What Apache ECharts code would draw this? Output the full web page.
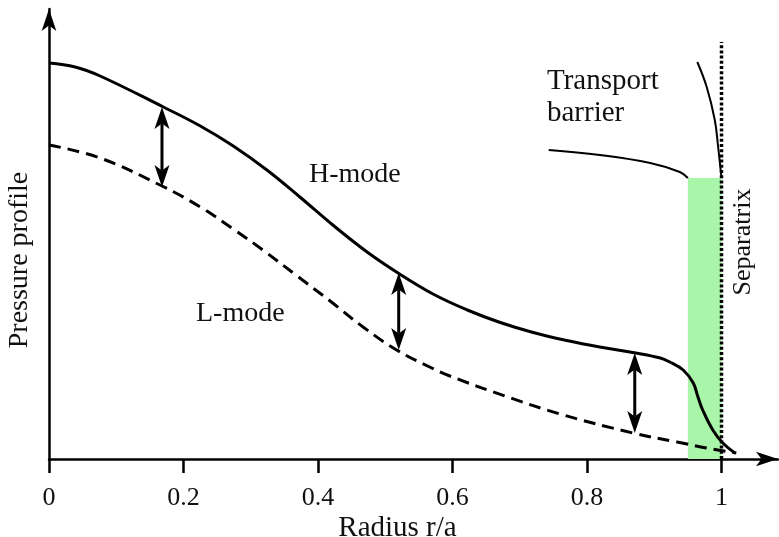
<!DOCTYPE html>
<html><head><meta charset="utf-8">
<script src="https://cdn.jsdelivr.net/npm/echarts@6/dist/echarts.min.js"></script>
<style>html,body{margin:0;padding:0;background:#fff}#c{width:779px;height:537px}</style>
</head><body><div id="c"></div>
<script>
// ---- data ----
const xTicks = [0, 0.2, 0.4, 0.6, 0.8, 1];
const hModeR = [0, 0.039, 0.076, 0.170, 0.225, 0.274, 0.324, 0.373, 0.422, 0.473, 0.519, 0.571, 0.622, 0.671, 0.720, 0.770, 0.819, 0.868, 0.909, 0.923, 0.943, 0.958, 0.965, 0.972, 0.987, 1.002, 1.020];
const hModeP = [3.96, 3.92, 3.83, 3.52, 3.33, 3.13, 2.89, 2.62, 2.34, 2.07, 1.86, 1.65, 1.49, 1.365, 1.265, 1.185, 1.12, 1.065, 1.01, 0.97, 0.89, 0.76, 0.62, 0.49, 0.29, 0.16, 0.06];
const lModeR = [0, 0.076, 0.168, 0.225, 0.274, 0.318, 0.369, 0.418, 0.467, 0.517, 0.566, 0.596, 0.678, 0.760, 0.868, 0.934, 0.978, 1.022];
const lModeP = [3.14, 3.01, 2.73, 2.52, 2.30, 2.09, 1.83, 1.58, 1.32, 1.09, 0.92, 0.83, 0.63, 0.45, 0.26, 0.17, 0.11, 0.06];
const barrierLineAR = [0.743, 0.819, 0.894, 0.938, 0.950];
const barrierLineAP = [3.09, 3.04, 2.96, 2.87, 2.81];
const barrierLineBR = [0.964, 0.978, 0.990, 0.995, 1.0];
const barrierLineBP = [3.97, 3.72, 3.39, 3.12, 2.81];
const separatrixR = [1.0, 1.0];
const separatrixP = [0, 4.17];
const barrierBand = [0.950, 1.0, 2.81];           // r start, r end, top
const arrowR = [0.168, 0.520, 0.871];
const arrowTop = [3.52, 1.86, 1.06];
const arrowBottom = [2.72, 1.09, 0.26];

const zip = (a, b) => a.map((v, i) => [v, b[i]]);
const FONT = 'Liberation Serif';
const chart = echarts.init(document.getElementById('c'), null, {renderer: 'canvas'});

function arrowHead(x, y, dir, L, W) {
  const n = L * 0.75;
  return {type: 'polygon', shape: {points: [[x, y], [x + W, y + dir * L], [x, y + dir * n], [x - W, y + dir * L]]},
          style: {fill: '#000'}};
}

chart.setOption({
  animation: false,
  backgroundColor: '#fff',
  grid: {left: 49, right: 1, top: 9, bottom: 78, containLabel: false, outerBoundsMode: 'none'},
  xAxis: {
    type: 'value', min: 0, max: 1.084, interval: 0.2,
    name: 'Radius r/a', nameLocation: 'middle', nameGap: 55, nameMoveOverlap: false,
    nameTextStyle: {fontFamily: FONT, fontSize: 29, color: '#111', padding: [0, 32, 0, 0]},
    axisLine: {lineStyle: {color: '#000', width: 2.5}, symbol: ['none', 'arrow'], symbolSize: [11, 22]},
    axisTick: {show: true, length: 14, lineStyle: {color: '#000', width: 2.5}, customValues: xTicks},
    axisLabel: {fontFamily: FONT, fontSize: 26, color: '#111', margin: 26, customValues: xTicks},
    splitLine: {show: false}
  },
  yAxis: {
    type: 'value', min: 0, max: 4.5,
    name: 'Pressure profile', nameLocation: 'middle', nameGap: 15, nameRotate: 90, nameMoveOverlap: false,
    nameTextStyle: {fontFamily: FONT, fontSize: 28, color: '#111', padding: [0, 52, 0, 0]},
    axisLine: {show: true, lineStyle: {color: '#000', width: 2.5}, symbol: ['none', 'arrow'], symbolSize: [11, 22]},
    axisTick: {show: false}, axisLabel: {show: false}, splitLine: {show: false}
  },
  series: [
    {
      type: 'custom', name: 'Transport barrier region', z: 1, silent: true,
      data: [barrierBand],
      renderItem: (params, api) => {
        const p0 = api.coord([api.value(0), api.value(2)]);
        const p1 = api.coord([api.value(1), 0]);
        return {type: 'rect', shape: {x: p0[0], y: p0[1], width: p1[0] - p0[0], height: p1[1] - p0[1]},
                style: {fill: '#a9f5a9'}};
      }
    },
    {
      type: 'line', name: 'Separatrix', z: 3, showSymbol: false, silent: true,
      data: zip(separatrixR, separatrixP),
      lineStyle: {color: '#000', width: 3.5, type: [3, 2.2], cap: 'butt'}
    },
    {
      type: 'line', name: 'L-mode', z: 4, showSymbol: false, smooth: 0.4,
      data: zip(lModeR, lModeP),
      lineStyle: {color: '#000', width: 3, type: [12, 7]}
    },
    {
      type: 'line', name: 'H-mode', z: 5, showSymbol: false, smooth: 0.4,
      data: zip(hModeR, hModeP),
      lineStyle: {color: '#000', width: 3}
    },
    {
      type: 'line', name: 'barrier pointer A', z: 5, showSymbol: false, smooth: 0.4,
      data: zip(barrierLineAR, barrierLineAP),
      lineStyle: {color: '#000', width: 2}
    },
    {
      type: 'line', name: 'barrier pointer B', z: 5, showSymbol: false, smooth: 0.4,
      data: zip(barrierLineBR, barrierLineBP),
      lineStyle: {color: '#000', width: 2}
    },
    {
      type: 'custom', name: 'difference', z: 6, silent: true,
      data: arrowR.map((r, i) => [r, arrowTop[i], arrowBottom[i]]),
      renderItem: (params, api) => {
        const r = api.value(0);
        const a = api.coord([r, api.value(1)]);
        const b = api.coord([r, api.value(2)]);
        const L = 22, W = 7.5, n = L * 0.75;
        return {type: 'group', children: [
          {type: 'line', shape: {x1: a[0], y1: a[1] + n, x2: b[0], y2: b[1] - n}, style: {stroke: '#000', lineWidth: 3}},
          arrowHead(a[0], a[1], 1, L, W),
          arrowHead(b[0], b[1], -1, L, W)
        ]};
      }
    }
  ],
  graphic: [
    {type: 'text', x: 309, y: 175, style: {text: 'H-mode', font: '28px "Liberation Serif"', fill: '#111', verticalAlign: 'middle'}, z: 10},
    {type: 'text', x: 196, y: 314, style: {text: 'L-mode', font: '28px "Liberation Serif"', fill: '#111', verticalAlign: 'middle'}, z: 10},
    {type: 'text', x: 547, y: 97, style: {text: 'Transport\nbarrier', font: '29px "Liberation Serif"', lineHeight: 32, fill: '#111', verticalAlign: 'middle'}, z: 10},
    {type: 'text', x: 743, y: 242, rotation: Math.PI / 2, style: {text: 'Separatrix', font: '26px "Liberation Serif"', fill: '#111', align: 'center', verticalAlign: 'middle'}, z: 10}
  ]
});
</script></body></html>
